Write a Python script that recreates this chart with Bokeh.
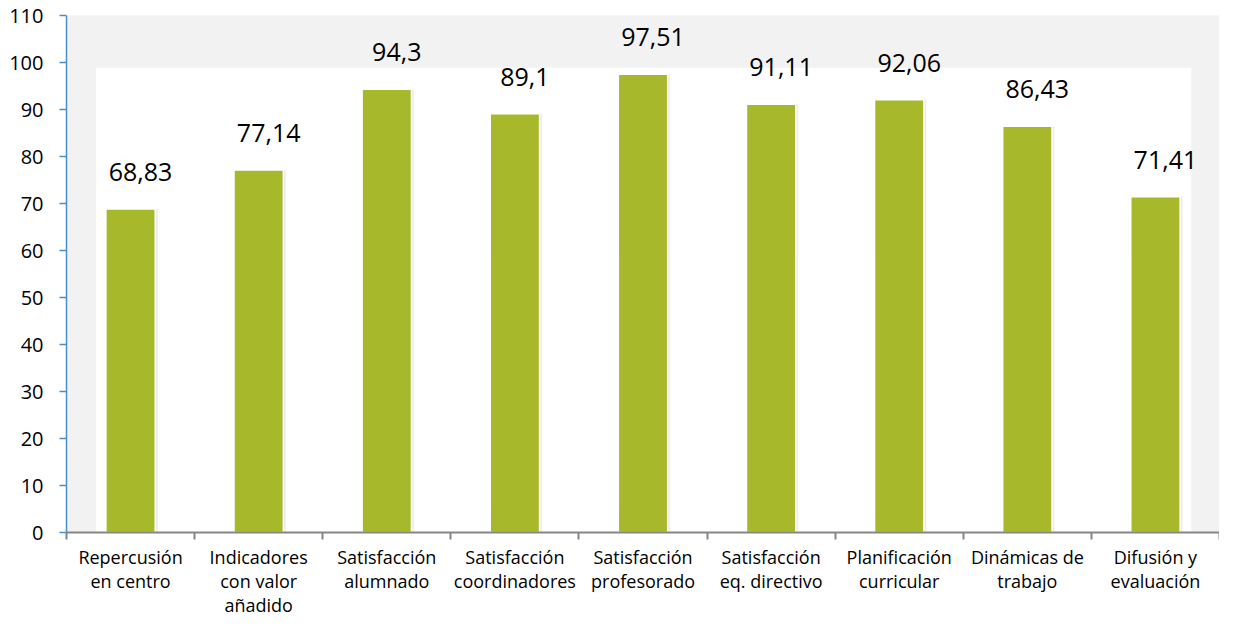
from bokeh.plotting import figure
from bokeh.models import (Range1d, FixedTicker, CustomJSTickFormatter, BoxAnnotation)
from bokeh.embed import file_html
from bokeh.resources import INLINE

categories = [
    "Repercusión\nen centro",
    "Indicadores\ncon valor\nañadido",
    "Satisfacción\nalumnado",
    "Satisfacción\ncoordinadores",
    "Satisfacción\nprofesorado",
    "Satisfacción\neq. directivo",
    "Planificación\ncurricular",
    "Dinámicas de\ntrabajo",
    "Difusión y\nevaluación",
]
values = [68.83, 77.14, 94.3, 89.1, 97.51, 91.11, 92.06, 86.43, 71.41]
value_labels = ["68,83", "77,14", "94,3", "89,1", "97,51", "91,11", "92,06", "86,43", "71,41"]
y_ticks = list(range(0, 111, 10))

FONT = "Open Sans"
BAR_COLOR = "#A8B82B"
n = len(categories)
centers = [i + 0.5 for i in range(n)]
bounds = list(range(n + 1))

p = figure(width=1219, height=619, output_backend="svg", toolbar_location=None,
           x_range=Range1d(0, n), y_range=Range1d(0, 110),
           min_border_left=66, min_border_right=0, min_border_top=15, min_border_bottom=83)
p.background_fill_color = "#F2F2F2"
p.border_fill_color = "white"
p.outline_line_color = None
p.grid.visible = False

# inner white wall
p.add_layout(BoxAnnotation(left=0.23, right=8.78, bottom=0, top=98.9,
                           fill_color="white", fill_alpha=1, line_color=None, level="underlay"))

# bar shadow
p.vbar(x=[c + 0.012 for c in centers], top=values, width=0.40, bottom=0,
       fill_color="#000000", fill_alpha=0.07, line_color=None)
p.vbar(x=centers, top=values, width=0.385, bottom=0,
       fill_color=BAR_COLOR, line_color="white", line_width=1.5)

p.text(x=centers, y=values, text=value_labels, x_offset=10, y_offset=-37,
       text_align="center", text_baseline="middle",
       text_font={"value": FONT}, text_font_size="25px", text_color="#000000")

# y axis
ya = p.yaxis[0]
ya.ticker = FixedTicker(ticks=y_ticks, minor_ticks=[])
ya.axis_line_color = "#4A90C8"
ya.axis_line_width = 1.5
ya.major_tick_line_color = "#4A90C8"
ya.major_tick_line_width = 1.5
ya.major_tick_out = 7
ya.major_tick_in = 0
ya.minor_tick_out = 0
ya.major_label_standoff = 16
ya.major_label_text_font = FONT
ya.major_label_text_font_size = "20px"
ya.major_label_text_color = "#000000"

# x axis
xa = p.xaxis[0]
xa.ticker = FixedTicker(ticks=centers, minor_ticks=bounds)
xa.formatter = CustomJSTickFormatter(args=dict(labels=categories),
                                     code="return labels[Math.floor(tick)];")
xa.axis_line_color = "#868686"
xa.axis_line_width = 2
xa.major_tick_out = 0
xa.major_tick_in = 0
xa.minor_tick_out = 7
xa.minor_tick_in = 0
xa.minor_tick_line_color = "#868686"
xa.minor_tick_line_width = 2
xa.major_label_standoff = 5
xa.major_label_text_font = FONT
xa.major_label_text_font_size = "18px"
xa.major_label_text_color = "#000000"
xa.major_label_text_line_height = 1.0

open("out.html", "w").write(file_html(p, INLINE))
